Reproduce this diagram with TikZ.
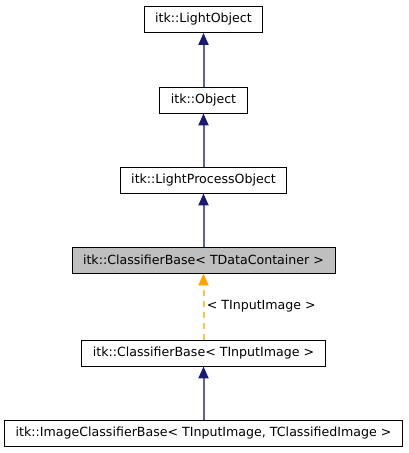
\documentclass[tikz,border=0pt]{standalone}
\usepackage{fontspec}
\setmainfont{DejaVu Sans}
\usetikzlibrary{arrows.meta}
\definecolor{midnightblue}{RGB}{25,25,112}
\definecolor{edgeblue}{RGB}{95,95,165}
\definecolor{tmplorange}{RGB}{255,165,0}
\definecolor{tmplline}{RGB}{255,195,80}
\definecolor{basegray}{RGB}{191,191,191}

\begin{document}
\begin{tikzpicture}[x=1pt, y=-1pt,
  every node/.style={font=\fontsize{12.6}{14}\selectfont},
  cls/.style={draw, line width=0.9pt, minimum height=26pt, inner xsep=11pt, inner ysep=0pt, fill=white},
  inh/.style={edgeblue, line width=2pt, -{Triangle[length=12pt, width=10pt, color=midnightblue]}},
  tmpl/.style={tmplline, line width=2pt, dash pattern=on 6pt off 5pt, -{Triangle[length=12pt, width=10pt, color=tmplorange]}}]
\useasboundingbox (0,0) rectangle (408,453);
\node[cls] (A) at (203.5,19.5) {itk::LightObject};
\node[cls] (B) at (203.5,100) {itk::Object};
\node[cls] (C) at (203.5,180) {itk::LightProcessObject};
\node[cls, fill=basegray] (D) at (203.5,260) {itk::ClassifierBase< TDataContainer >};
\node[cls] (E) at (203.5,353) {itk::ClassifierBase< TInputImage >};
\node[cls] (F) at (203.5,433) {itk::ImageClassifierBase< TInputImage, TClassifiedImage >};
\draw[inh] (B) -- (A);
\draw[inh] (C) -- (B);
\draw[inh] (D) -- (C);
\draw[tmpl] (E) -- node[right, xshift=-1pt, text=black] (L) {< TInputImage >} (D);
\draw[inh] (F) -- (E);
\end{tikzpicture}
\end{document}
